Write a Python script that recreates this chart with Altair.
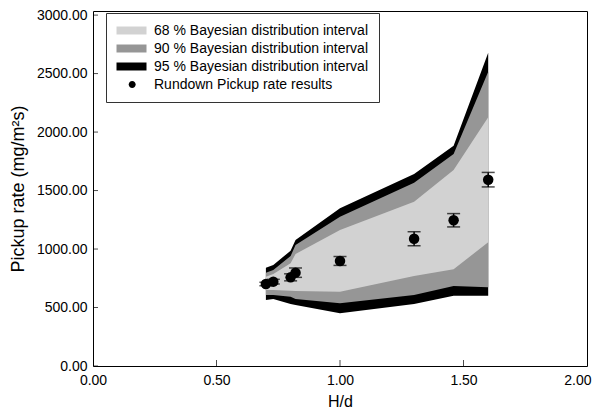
import altair as alt
import pandas as pd

# ---- data ----
hd = [0.70, 0.73, 0.80, 0.82, 1.00, 1.30, 1.46, 1.60]
upper95 = [840, 863, 986, 1077, 1348, 1641, 1883, 2678]
upper90 = [797, 821, 940, 1034, 1276, 1567, 1812, 2516]
upper68 = [763, 787, 878, 957, 1163, 1405, 1676, 2126]
lower68 = [650, 650, 644, 641, 635, 769, 827, 1058]
lower90 = [607, 607, 592, 573, 536, 607, 684, 673]
lower95 = [564, 573, 530, 521, 451, 530, 601, 601]

rate = [701, 721, 758, 798, 898, 1088, 1246, 1593]
rate_err = [15, 20, 30, 40, 38, 60, 57, 62]

series_labels = [
    "68 % Bayesian distribution interval",
    "90 % Bayesian distribution interval",
    "95 % Bayesian distribution interval",
    "Rundown Pickup rate results",
]
series_colors = ["#d2d2d2", "#969696", "#000000", "#000000"]

y_ticks = [0, 500, 1000, 1500, 2000, 2500, 3000]
x_ticks = [0.0, 0.5, 1.0, 1.5, 2.0]
x_inner_ticks = [0.5, 1.0, 1.5]

FONT = "Liberation Sans"
X_TITLE = "H/d"
Y_TITLE = "Pickup rate (mg/m\u00b2s)"

band = pd.DataFrame({
    "hd": hd, "u95": upper95, "u90": upper90, "u68": upper68,
    "l68": lower68, "l90": lower90, "l95": lower95,
})
pts = pd.DataFrame({"hd": hd, "rate": rate, "err": rate_err})
pts["lo"] = pts["rate"] - pts["err"]
pts["hi"] = pts["rate"] + pts["err"]
ytick_df = pd.DataFrame({"yv": y_ticks})
xtick_df = pd.DataFrame({"hd": x_inner_ticks})

xscale = alt.Scale(domain=[0, 2], nice=False, zero=False)
yscale = alt.Scale(domain=[0, 3035], nice=False, zero=False)

x_axis = alt.Axis(values=x_ticks, format=".2f", tickSize=0, domain=False, grid=False,
                  labelFont=FONT, labelFontSize=14, labelColor="black", labelFlush=False,
                  labelAlign={"condition": {"test": "datum.value == 2", "value": "right"},
                              "value": "center"},
                  labelOffset={"condition": {"test": "datum.value == 2", "value": 4},
                               "value": 0},
                  labelPadding=7, titleFont=FONT, titleFontSize=16,
                  titleFontWeight="normal", titleColor="black", titlePadding=6)
y_axis = alt.Axis(values=y_ticks, format=".2f", tickSize=0, domain=False, grid=False,
                  labelFont=FONT, labelFontSize=14, labelColor="black",
                  labelPadding=6, titleFont=FONT, titleFontSize=18,
                  titleFontWeight="normal", titleColor="black", titlePadding=9)


def X(field):
    return alt.X(f"{field}:Q", scale=xscale, title=X_TITLE, axis=x_axis)


def Y(field):
    return alt.Y(f"{field}:Q", scale=yscale, title=Y_TITLE, axis=y_axis)


base_band = alt.Chart(band)


def area(lo, hi, color):
    return base_band.mark_area(color=color, interpolate="linear").encode(
        x=X("hd"), y=Y(lo), y2=alt.Y2(f"{hi}:Q"),
    )


a95 = area("l95", "u95", series_colors[2])
a90 = area("l90", "u90", series_colors[1])
a68 = area("l68", "u68", series_colors[0])

err_rule = alt.Chart(pts).mark_rule(color="black", strokeWidth=1.5).encode(
    x=X("hd"), y=Y("lo"), y2="hi:Q",
)
cap_lo = alt.Chart(pts).mark_tick(color="black", size=13, thickness=1.5, orient="horizontal").encode(
    x=X("hd"), y=Y("lo"),
)
cap_hi = alt.Chart(pts).mark_tick(color="black", size=13, thickness=1.5, orient="horizontal").encode(
    x=X("hd"), y=Y("hi"),
)
points = alt.Chart(pts).mark_circle(color="black", opacity=1, size=110).encode(
    x=X("hd"), y=Y("rate"),
)

# inward tick marks
yticks = alt.Chart(ytick_df).mark_tick(orient="horizontal", size=5, thickness=1, color="black").encode(
    y=Y("yv"), x=alt.value(2.5),
)
xticks = alt.Chart(xtick_df).mark_tick(orient="vertical", size=6, thickness=1, color="black").encode(
    x=X("hd"), y=alt.value(352),
)

# legend-only layer
rect_path = "M-1,-0.571L3.286,-0.571L3.286,0.571L-1,0.571Z"
circ_path = "M0.74,0A0.5,0.5 0 1,0 1.74,0A0.5,0.5 0 1,0 0.74,0Z"
leg_df = pd.DataFrame({"series": series_labels})
legend_def = alt.Legend(
    title=None, orient="none", legendX=13, legendY=2,
    labelFont=FONT, labelFontSize=14, labelColor="black", labelOffset=23,
    symbolSize=196, symbolStrokeColor="#222222", symbolStrokeWidth=1,
    symbolOpacity=1, rowPadding=3, padding=10,
    strokeColor="#333333", fillColor="white", labelLimit=400,
)
legend_layer = alt.Chart(leg_df).mark_point(filled=True, opacity=0).encode(
    fill=alt.Fill("series:N", scale=alt.Scale(domain=series_labels, range=series_colors),
                  legend=legend_def),
    shape=alt.Shape("series:N",
                    scale=alt.Scale(domain=series_labels,
                                    range=[rect_path, rect_path, rect_path, circ_path]),
                    legend=legend_def),
)

chart = alt.layer(
    a95, a90, a68, err_rule, cap_lo, cap_hi, points, yticks, xticks, legend_layer
).properties(
    width=494, height=355,
    autosize=alt.AutoSizeParams(type="none"),
    padding={"left": 85, "top": 3, "right": 5, "bottom": 42},
    background="white",
).configure_view(stroke="black", strokeWidth=1)

chart.save("out.html", embed_options={"renderer": "svg", "actions": False})
